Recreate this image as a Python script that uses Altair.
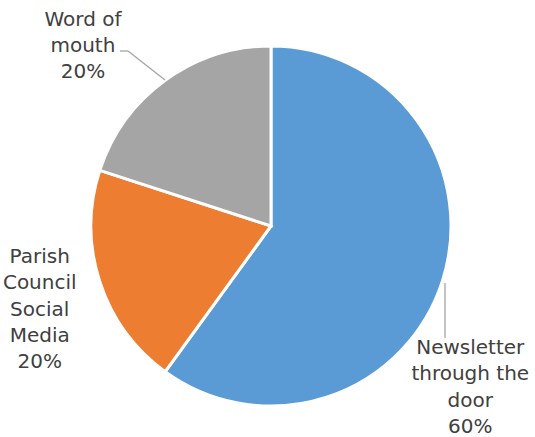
import altair as alt
import pandas as pd

categories = ["Newsletter through the door", "Parish Council Social Media", "Word of mouth"]
values = [60, 20, 20]
label_lines = [["Newsletter", "through the", "door", "60%"],
               ["Parish", "Council", "Social", "Media", "20%"],
               ["Word of", "mouth", "20%"]]
colors = ["#5B9BD5", "#ED7D31", "#A5A5A5"]

df = pd.DataFrame({"category": categories, "value": values,
                   "order": list(range(len(categories)))})
df["label"] = label_lines

CX, CY, R = 271, 226, 180
FONT = "DejaVu Sans"

base = alt.Chart(df)

pie = base.mark_arc(stroke="white", strokeWidth=3).encode(
    theta=alt.Theta("value:Q", stack=True),
    order=alt.Order("order:Q"),
    color=alt.Color("category:N", scale=alt.Scale(domain=categories, range=colors), legend=None),
    x=alt.value(CX), y=alt.value(CY),
    radius=alt.value(R),
)

offsets = {categories[0]: (-29, 48), categories[1]: (-3, -43), categories[2]: (-47, -12)}
texts = []
for cat in categories:
    dx, dy = offsets[cat]
    texts.append(
        base.mark_text(font=FONT, fontSize=20, color="#404040", lineHeight=26.3,
                       align="center", baseline="middle", dx=dx, dy=dy).encode(
            theta=alt.Theta("value:Q", stack=True),
            order=alt.Order("order:Q"),
            text=alt.condition(alt.datum.category == cat, "label", alt.value("")),
            x=alt.value(CX), y=alt.value(CY),
            radius=alt.value(240),
        )
    )

leader_df = pd.DataFrame({"x": [0], })
lead1 = alt.Chart(leader_df).mark_rule(color="#A5A5A5", strokeWidth=1.3).encode(
    x=alt.value(120), x2=alt.value(128), y=alt.value(51), y2=alt.value(51))
lead2 = alt.Chart(leader_df).mark_rule(color="#A5A5A5", strokeWidth=1.3).encode(
    x=alt.value(128), x2=alt.value(165), y=alt.value(51), y2=alt.value(80))
lead3 = alt.Chart(leader_df).mark_rule(color="#A5A5A5", strokeWidth=1.3).encode(
    x=alt.value(445), x2=alt.value(445), y=alt.value(283), y2=alt.value(338))

chart = alt.layer(pie, lead1, lead2, lead3, *texts).properties(
    width=535, height=437, autosize=alt.AutoSizeParams(type="none"), padding=0
).configure_view(stroke=None)

chart.save("out.html", embed_options={"renderer": "svg", "actions": False})
